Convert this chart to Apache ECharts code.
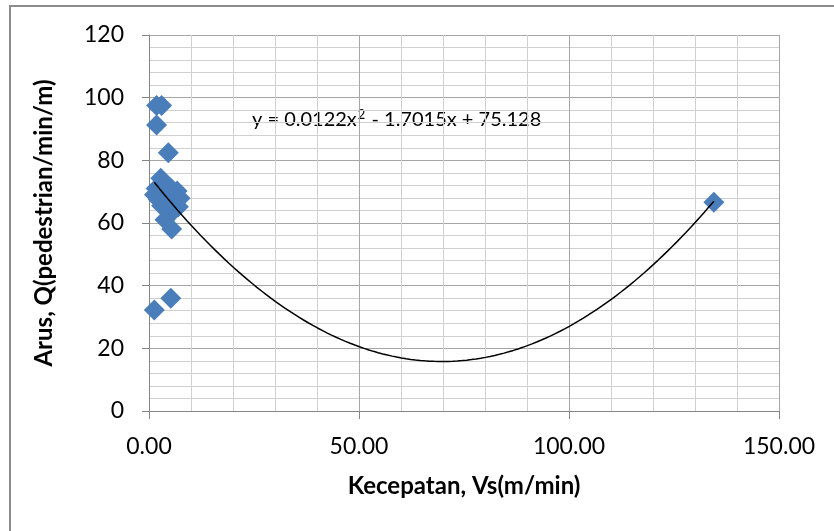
<!DOCTYPE html>
<html>
<head>
<meta charset="utf-8">
<script src="https://cdn.jsdelivr.net/npm/echarts@6/dist/echarts.min.js"></script>
<style>html,body{margin:0;padding:0;background:#fff}#c{width:834px;height:531px}</style>
</head>
<body>
<div id="c"></div>
<script>
// Observed points: speed Vs (m/min) and flow Q (pedestrian/min/m)
const speedVs = [1.26, 5.2, 1.8, 3.0, 1.8, 4.6, 2.8, 1.7, 1.3, 2.2, 3.5, 4.3, 5.3, 6.2, 6.7, 7.4, 7.0, 5.8, 4.0, 3.0, 3.8, 5.4, 134.5];
const flowQ   = [32.2, 36.0, 97.5, 97.5, 91.3, 82.4, 74.3, 71.0, 69.0, 67.5, 70.5, 72.0, 71.0, 69.0, 70.2, 67.9, 65.2, 63.8, 66.0, 65.5, 61.0, 58.1, 66.6];
// Polynomial trendline shown on the chart: y = a x^2 + b x + c
const trendCoef = [0.0122, -1.7015, 75.128];
const trendLabel = 'y = 0.0122x{sup|2} - 1.7015x + 75.128';
const xTicks = [0, 50, 100, 150];
const yTicks = [0, 20, 40, 60, 80, 100, 120];

const scatterData = speedVs.map((x, i) => [x, flowQ[i]]);
const xMin = Math.min(...speedVs), xMax = Math.max(...speedVs);
const trendData = [];
const steps = 120;
for (let i = 0; i <= steps; i++) {
  const x = xMin + (xMax - xMin) * i / steps;
  trendData.push([x, trendCoef[0] * x * x + trendCoef[1] * x + trendCoef[2]]);
}

const font = 'Lato, Carlito, "Open Sans", sans-serif';
const chart = echarts.init(document.getElementById('c'), null, {renderer: 'canvas'});
chart.setOption({
  animation: false,
  backgroundColor: '#fff',
  grid: {left: 149, top: 35, width: 630, height: 376, containLabel: false},
  xAxis: {
    type: 'value', min: xTicks[0], max: xTicks[xTicks.length - 1], interval: 50,
    name: 'Kecepatan, Vs(m/min)', nameLocation: 'middle', nameGap: 63,
    nameTextStyle: {fontFamily: font, fontSize: 24, fontWeight: 'bold', color: '#000'},
    axisLine: {show: true, onZero: false, lineStyle: {color: '#868686', width: 1}},
    axisTick: {show: true, inside: false, length: 8, lineStyle: {color: '#868686'}},
    axisLabel: {fontFamily: font, fontSize: 23, color: '#000', margin: 24, formatter: v => v.toFixed(2)},
    splitLine: {show: true, lineStyle: {color: '#a6a6a6', width: 1}},
    minorTick: {show: false, splitNumber: 5},
    minorSplitLine: {show: true, lineStyle: {color: '#d0d0d0', width: 1}}
  },
  yAxis: {
    type: 'value', min: yTicks[0], max: yTicks[yTicks.length - 1], interval: 20,
    name: 'Arus, Q(pedestrian/min/m)', nameLocation: 'middle', nameGap: 93,
    nameTextStyle: {fontFamily: font, fontSize: 24, fontWeight: 'bold', color: '#000'},
    axisLine: {show: true, onZero: false, lineStyle: {color: '#868686', width: 1}},
    axisTick: {show: true, inside: false, length: 7, lineStyle: {color: '#868686'}},
    axisLabel: {fontFamily: font, fontSize: 23, color: '#000', margin: 25},
    splitLine: {show: true, lineStyle: {color: '#a6a6a6', width: 1}},
    minorTick: {show: false, splitNumber: 5},
    minorSplitLine: {show: true, lineStyle: {color: '#d0d0d0', width: 1}}
  },
  series: [
    {
      type: 'scatter', data: scatterData, symbol: 'diamond', symbolSize: 21,
      itemStyle: {color: '#4a7ebb', opacity: 1}, z: 3
    },
    {
      type: 'line', data: trendData, showSymbol: false, symbol: 'none', smooth: false,
      lineStyle: {color: '#000', width: 1.5}, z: 4, silent: true
    }
  ],
  graphic: [
    {type: 'rect', shape: {x: 10, y: 6, width: 900, height: 700}, style: {fill: 'none', stroke: '#8c8c8c', lineWidth: 2}, silent: true},
    {type: 'text', left: 252, top: 108, style: {
      text: trendLabel, fontFamily: font, fontSize: 20, fill: '#000',
      rich: {sup: {fontFamily: font, fontSize: 13, fill: '#000', padding: [0, 1, 11, 1]}}
    }}
  ]
});
</script>
</body>
</html>
